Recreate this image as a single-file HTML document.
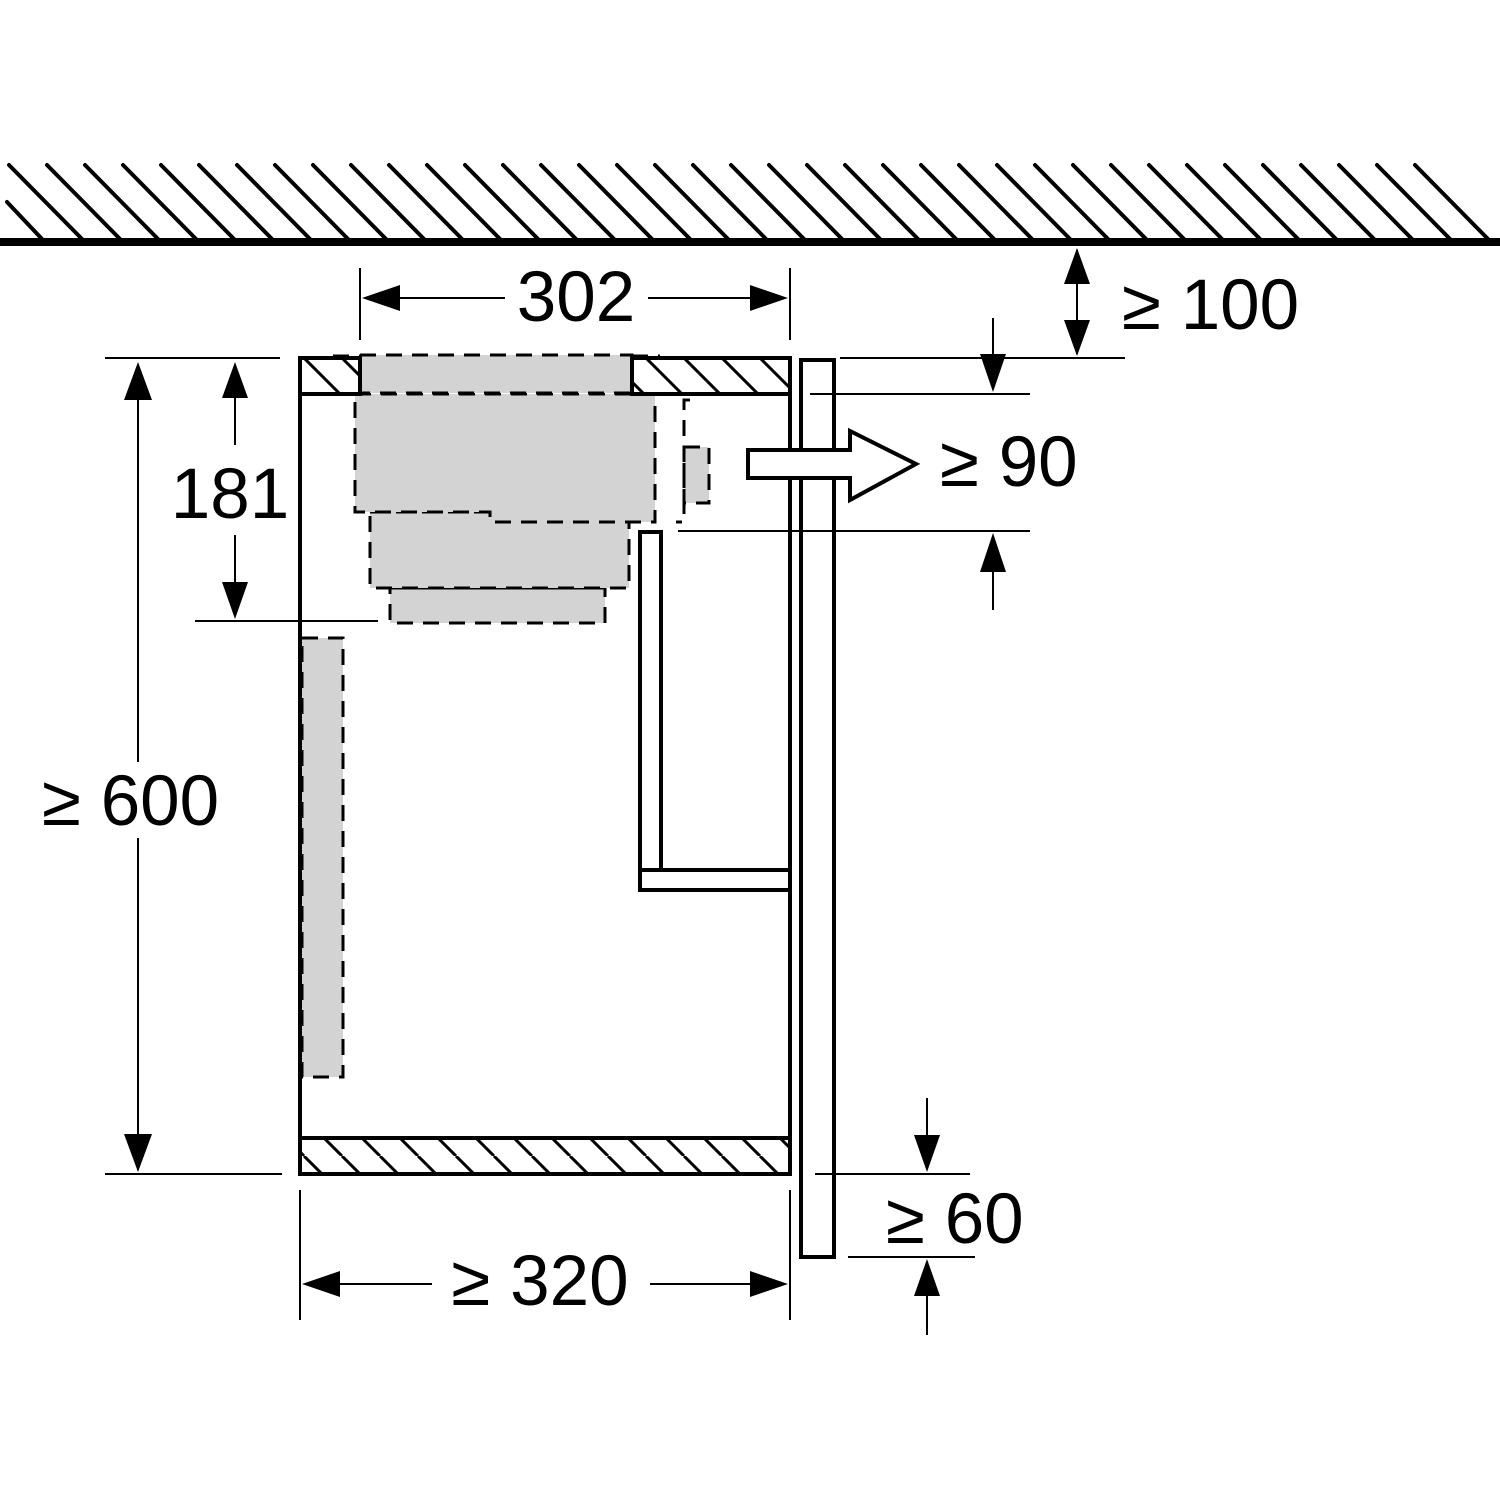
<!DOCTYPE html>
<html><head><style>html,body{margin:0;padding:0;background:#fff}svg{display:block}text{font-family:"Liberation Sans",sans-serif;fill:#000}</style></head>
<body>
<svg width="1500" height="1500" viewBox="0 0 1500 1500" xmlns="http://www.w3.org/2000/svg">
<defs>
<pattern id="h" patternUnits="userSpaceOnUse" width="38" height="38" patternTransform="translate(0,358)">
<path d="M-38,0 L0,38 M0,0 L38,38 M38,0 L76,38" stroke="#000" stroke-width="3"/>
</pattern>
</defs>
<g stroke="#000" stroke-width="4" stroke-linecap="round">
<line x1="7" y1="202" x2="42" y2="239"/>
</g>
<rect x="0" y="238" width="1500" height="8" fill="#000"/>
<g fill="#d3d3d3" stroke="#000" stroke-width="3" stroke-dasharray="16,10">
<rect x="302" y="638" width="41" height="439"/>
<rect x="390" y="588" width="215" height="35"/>
<rect x="370" y="512" width="259" height="76"/>
<path d="M355,394 H655 V522 H490 V512 H355 Z"/>
<rect x="360" y="355" width="272" height="38"/>
<rect x="684" y="447" width="25" height="56"/>
<path d="M690,400 H684 V522 H676" fill="none"/>
<line x1="333" y1="356" x2="360" y2="356"/>
<line x1="632" y1="356" x2="660" y2="356"/>
</g>
<g stroke="#000" stroke-width="4" fill="none">
<rect x="300" y="358" width="60" height="36" fill="url(#h)"/>
<rect x="632" y="358" width="158" height="36" fill="url(#h)"/>
<rect x="300" y="1138" width="490" height="36" fill="url(#h)"/>
<line x1="300" y1="358" x2="300" y2="1174"/>
<line x1="790" y1="358" x2="790" y2="1174"/>
<rect x="801" y="360" width="33" height="897"/>
<rect x="640" y="532" width="21" height="338"/>
<rect x="640" y="870" width="150" height="20"/>
<path d="M748,450 H850 V431 L916,464 L850,500 V478 H748 Z" fill="#fff"/>
</g>
<g stroke="#000" stroke-width="2">
<line x1="360" y1="268" x2="360" y2="340"/><line x1="790" y1="268" x2="790" y2="340"/>
<line x1="365" y1="298" x2="505" y2="298"/><line x1="648" y1="298" x2="785" y2="298"/>
<line x1="1077" y1="250" x2="1077" y2="354"/>
<line x1="840" y1="358" x2="1125" y2="358"/>
<line x1="810" y1="394" x2="1030" y2="394"/>
<line x1="678" y1="531" x2="1030" y2="531"/>
<line x1="993" y1="318" x2="993" y2="385"/><line x1="993" y1="540" x2="993" y2="610"/>
<line x1="105" y1="358" x2="280" y2="358"/>
<line x1="195" y1="621" x2="378" y2="621"/>
<line x1="105" y1="1174" x2="282" y2="1174"/>
<line x1="235" y1="365" x2="235" y2="445"/><line x1="235" y1="535" x2="235" y2="615"/>
<line x1="138" y1="365" x2="138" y2="762"/><line x1="138" y1="838" x2="138" y2="1170"/>
<line x1="300" y1="1190" x2="300" y2="1320"/><line x1="790" y1="1190" x2="790" y2="1320"/>
<line x1="305" y1="1284" x2="432" y2="1284"/><line x1="650" y1="1284" x2="785" y2="1284"/>
<line x1="815" y1="1174" x2="970" y2="1174"/>
<line x1="848" y1="1257" x2="975" y2="1257"/>
<line x1="927" y1="1098" x2="927" y2="1168"/><line x1="927" y1="1263" x2="927" y2="1335"/>
</g>
<g fill="#000">
<path d="M362,298 L400,285 L400,311 Z"/><path d="M788,298 L750,285 L750,311 Z"/>
<path d="M1077,248 L1064,284 L1090,284 Z"/><path d="M1077,356 L1064,320 L1090,320 Z"/>
<path d="M993,392 L980,354 L1006,354 Z"/><path d="M993,533 L980,572 L1006,572 Z"/>
<path d="M235,362 L222,398 L248,398 Z"/><path d="M235,619 L222,582 L248,582 Z"/>
<path d="M138,362 L124,400 L152,400 Z"/><path d="M138,1172 L124,1134 L152,1134 Z"/>
<path d="M302,1284 L340,1271 L340,1297 Z"/><path d="M788,1284 L750,1271 L750,1297 Z"/>
<path d="M927,1172 L914,1135 L940,1135 Z"/><path d="M927,1259 L914,1296 L940,1296 Z"/>
</g>
<g font-size="71">
<text x="576" y="321" text-anchor="middle">302</text>
<text x="1122" y="329">≥ 100</text>
<text x="940" y="486">≥ 90</text>
<text x="230" y="518" text-anchor="middle">181</text>
<text x="42" y="825">≥ 600</text>
<text x="540" y="1305" text-anchor="middle">≥ 320</text>
<text x="886" y="1243">≥ 60</text>
</g>
<g stroke="#000" stroke-width="4" stroke-linecap="round">
<line x1="9" y1="165" x2="82" y2="239"/><line x1="47" y1="165" x2="120" y2="239"/><line x1="85" y1="165" x2="158" y2="239"/><line x1="123" y1="165" x2="196" y2="239"/><line x1="161" y1="165" x2="234" y2="239"/><line x1="199" y1="165" x2="272" y2="239"/><line x1="237" y1="165" x2="310" y2="239"/><line x1="275" y1="165" x2="348" y2="239"/><line x1="313" y1="165" x2="386" y2="239"/><line x1="351" y1="165" x2="424" y2="239"/><line x1="389" y1="165" x2="462" y2="239"/><line x1="427" y1="165" x2="500" y2="239"/><line x1="465" y1="165" x2="538" y2="239"/><line x1="503" y1="165" x2="576" y2="239"/><line x1="541" y1="165" x2="614" y2="239"/><line x1="579" y1="165" x2="652" y2="239"/><line x1="617" y1="165" x2="690" y2="239"/><line x1="655" y1="165" x2="728" y2="239"/><line x1="693" y1="165" x2="766" y2="239"/><line x1="731" y1="165" x2="804" y2="239"/><line x1="769" y1="165" x2="842" y2="239"/><line x1="807" y1="165" x2="880" y2="239"/><line x1="845" y1="165" x2="918" y2="239"/><line x1="883" y1="165" x2="956" y2="239"/><line x1="921" y1="165" x2="994" y2="239"/><line x1="959" y1="165" x2="1032" y2="239"/><line x1="997" y1="165" x2="1070" y2="239"/><line x1="1035" y1="165" x2="1108" y2="239"/><line x1="1073" y1="165" x2="1146" y2="239"/><line x1="1111" y1="165" x2="1184" y2="239"/><line x1="1149" y1="165" x2="1222" y2="239"/><line x1="1187" y1="165" x2="1260" y2="239"/><line x1="1225" y1="165" x2="1298" y2="239"/><line x1="1263" y1="165" x2="1336" y2="239"/><line x1="1301" y1="165" x2="1374" y2="239"/><line x1="1339" y1="165" x2="1412" y2="239"/><line x1="1377" y1="165" x2="1450" y2="239"/><line x1="1415" y1="165" x2="1488" y2="239"/>
</g>
</svg>
</body></html>
